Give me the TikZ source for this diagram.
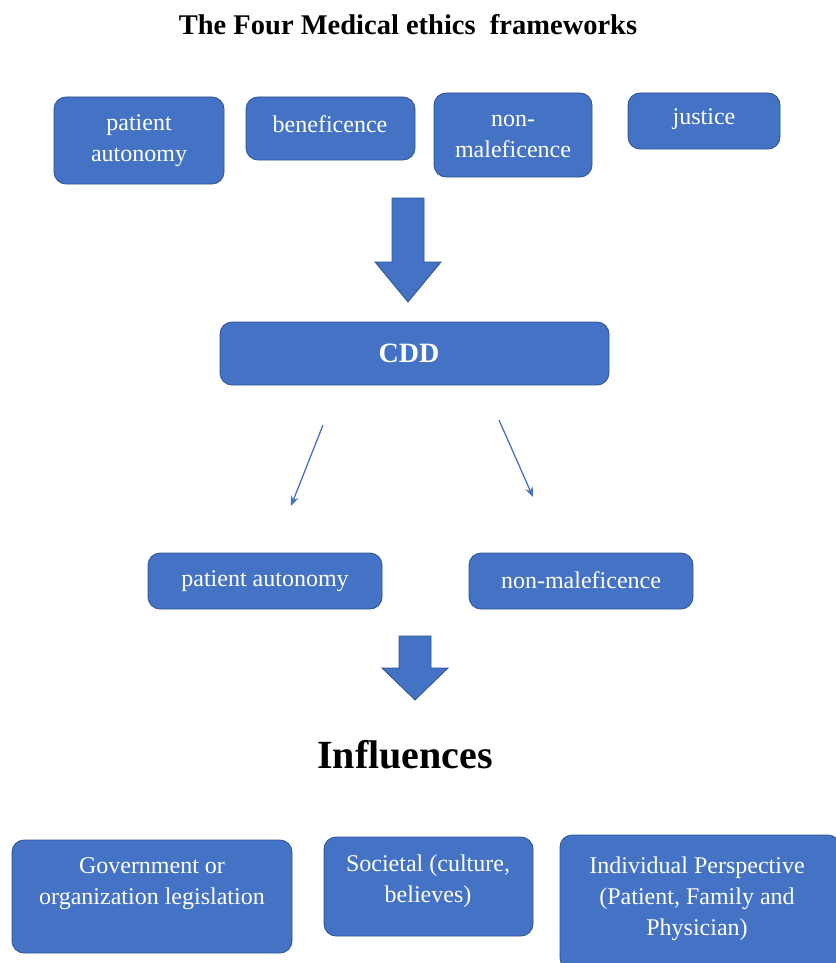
\documentclass[tikz,border=0pt]{standalone}
\usepackage{fontspec}
\setmainfont{Liberation Serif}
\usetikzlibrary{arrows.meta}
\definecolor{obox}{HTML}{4472C4}
\definecolor{oedge}{HTML}{2F528F}
\begin{document}
\begin{tikzpicture}[x=1pt,y=-1pt,
  box/.style={draw=oedge, line width=0.8pt, fill=obox, rounded corners=12pt, inner sep=0pt},
  txt/.style={text=white, align=center, font=\fontsize{24}{31}\selectfont, inner sep=0pt},
  bigarrow/.style={draw=oedge, line width=0.8pt, fill=obox},
  thinarrow/.style={draw=obox, line width=1.3pt, -{Stealth[length=10pt,width=8pt]}}]
\useasboundingbox (0,0) rectangle (835,963);
% title
\node[inner sep=0pt, font=\fontsize{28.5}{33}\selectfont\bfseries] (title) at (408,25) {The Four Medical ethics \ frameworks};
% top boxes
\node[box, minimum width=170pt, minimum height=87pt] (pa) at (139,140.5) {};
\node[txt] (pat) at (139,140.5) {patient\\autonomy};
\node[box, minimum width=169pt, minimum height=63pt] (ben) at (330.5,128.5) {};
\node[txt] (bent) at (330,124) {beneficence};
\node[box, minimum width=158pt, minimum height=84pt] (nm) at (513,135) {};
\node[txt] (nmt) at (513,136.5) {non-\\maleficence};
\node[box, minimum width=152pt, minimum height=56pt] (jus) at (704,121) {};
\node[txt] (just) at (704,119) {justice};
% big arrow 1
\draw[bigarrow] (392,198) -- (424,198) -- (424,262) -- (441,262) -- (408,302) -- (375,262) -- (392,262) -- cycle;
% CDD
\node[box, minimum width=389pt, minimum height=63pt] (cdd) at (414.5,353.5) {};
\node[txt, font=\fontsize{28}{32}\selectfont\bfseries] (cddt) at (409,353) {CDD};
% thin arrows
\coordinate (a1s) at (323,425);
\coordinate (a1e) at (291,506);
\coordinate (a2s) at (499,420);
\coordinate (a2e) at (533,497);
\draw[thinarrow] (a1s) -- (a1e);
\draw[thinarrow] (a2s) -- (a2e);
% middle boxes
\node[box, minimum width=234pt, minimum height=56pt] (pa2) at (265,581) {};
\node[txt] (pa2t) at (265,581) {patient autonomy};
\node[box, minimum width=224pt, minimum height=56pt] (nm2) at (581,581) {};
\node[txt] (nm2t) at (581,580) {non-maleficence};
% big arrow 2
\draw[bigarrow] (399,636) -- (431,636) -- (431,668) -- (448,668) -- (415,700) -- (382,668) -- (399,668) -- cycle;
% Influences
\node[inner sep=0pt, font=\fontsize{40}{46}\selectfont\bfseries] (infl) at (405,755) {Influences};
% bottom boxes
\node[box, minimum width=280pt, minimum height=113pt] (gov) at (152,896.5) {};
\node[txt] (govt) at (152,883.5) {Government or\\organization legislation};
\node[box, minimum width=209pt, minimum height=99pt] (soc) at (428.5,886.5) {};
\node[txt] (soct) at (428,881.5) {Societal (culture,\\believes)};
\node[box, minimum width=280pt, minimum height=135pt] (ind) at (700,902.5) {};
\node[txt] (indt) at (697,899) {Individual Perspective\\(Patient, Family and\\Physician)};
\end{tikzpicture}
\end{document}
